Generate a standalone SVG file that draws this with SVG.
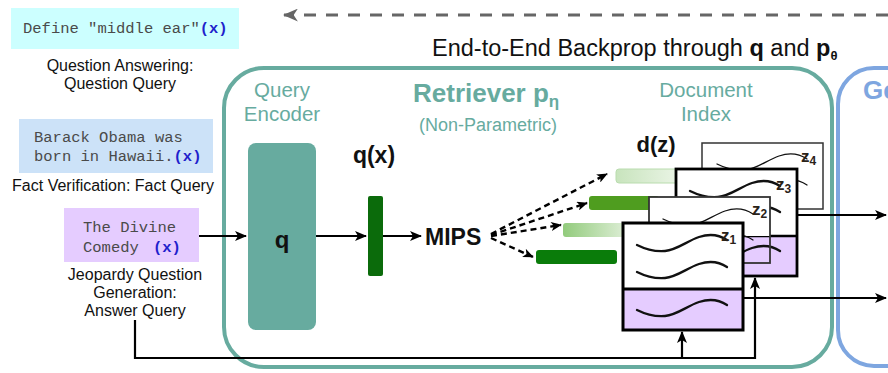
<svg xmlns="http://www.w3.org/2000/svg" width="888" height="373" viewBox="0 0 888 373">
  <style>
    .sans { font-family: "Liberation Sans", Arial, sans-serif; }
    .mono { font-family: "Liberation Mono", "Courier New", monospace; font-size: 15.5px; fill: #4a4a4a; }
    .x { font-weight: bold; fill: #1f1fcc; }
    .cap { font-size: 16px; fill: #111; text-anchor: middle; }
    .teal { fill: #67ab9f; }
    .b { font-weight: bold; }
    .wire { fill: none; stroke: #000; stroke-width: 2.2; }
    .dash { fill: none; stroke: #000; stroke-width: 2.4; stroke-dasharray: 6 4; }
    .wave { fill: none; stroke: #111; stroke-linecap: round; }
    .zl { font-size: 17px; font-weight: bold; fill: #2a2218; }
  </style>
  <defs>
    <marker id="ah" viewBox="0 0 12 10" refX="11" refY="5" markerWidth="12" markerHeight="10" orient="auto" markerUnits="userSpaceOnUse">
      <path d="M0 0 L12 5 L0 10 L3 5 Z" fill="#000"/>
    </marker>
    <marker id="ahs" viewBox="0 0 12 10" refX="11" refY="5" markerWidth="11" markerHeight="9" orient="auto" markerUnits="userSpaceOnUse">
      <path d="M0 0 L12 5 L0 10 L3 5 Z" fill="#000"/>
    </marker>
    <marker id="ahg" viewBox="0 0 14 12" refX="13" refY="6" markerWidth="15" markerHeight="13" orient="auto" markerUnits="userSpaceOnUse">
      <path d="M0 0 L14 6 L0 12 L4 6 Z" fill="#666"/>
    </marker>
    <linearGradient id="gLight" x1="0" y1="0" x2="1" y2="0">
      <stop offset="0" stop-color="#92cb7c"/>
      <stop offset="1" stop-color="#e6f2e0"/>
    </linearGradient>
    <linearGradient id="gPale" x1="0" y1="0" x2="1" y2="0">
      <stop offset="0" stop-color="#c8e4bd"/>
      <stop offset="1" stop-color="#eef6ea"/>
    </linearGradient>
    <!-- one handwritten-style text line inside a document card -->
    <path id="wave" d="M0 0 C8 4 16 7 28 6 C40 5 50 -4 62 -8 C74 -12 84 -9 90 -5"/>
  </defs>

  <!-- backprop banner -->
  <g id="backprop">
    <line x1="888" y1="15" x2="284" y2="15" stroke="#666" stroke-width="3" stroke-dasharray="12 10" marker-end="url(#ahg)"/>
    <text class="sans" x="432" y="56" font-size="23.5" fill="#111">End-to-End Backprop through <tspan class="b">q</tspan> and <tspan class="b">p</tspan><tspan class="b" font-size="13" dy="4">θ</tspan></text>
  </g>

  <!-- query examples -->
  <g id="qa-query">
    <rect x="11" y="8" width="228" height="41" fill="#ccffff"/>
    <text class="mono" x="23" y="33">Define "middle ear"<tspan class="x">(x)</tspan></text>
    <text class="sans cap" x="120" y="71">Question Answering:</text>
    <text class="sans cap" x="120" y="89">Question Query</text>
  </g>
  <g id="fact-query">
    <rect x="19" y="119" width="194" height="54" fill="#cce2f8"/>
    <text class="mono" x="34" y="142">Barack Obama was</text>
    <text class="mono" x="34" y="161">born in Hawaii.<tspan class="x">(x)</tspan></text>
    <text class="sans cap" x="113" y="191">Fact Verification: Fact Query</text>
  </g>
  <g id="jeopardy-query">
    <rect x="64" y="208" width="135" height="54" fill="#e5ccff"/>
    <text class="mono" x="83" y="232">The Divine</text>
    <text class="mono" x="83" y="252">Comedy <tspan class="x" x="153">(x)</tspan></text>
    <text class="sans cap" x="135" y="280">Jeopardy Question</text>
    <text class="sans cap" x="135" y="298">Generation:</text>
    <text class="sans cap" x="135" y="316">Answer Query</text>
  </g>

  <!-- retriever and generator frames -->
  <g id="generator">
    <rect x="838" y="68" width="120" height="298" rx="36" fill="none" stroke="#7ea6e0" stroke-width="4"/>
    <text class="sans b" x="863" y="99" font-size="26" fill="#7ea6e0">Ge</text>
  </g>
  <g id="retriever">
    <rect x="224" y="68" width="608" height="299" rx="40" fill="none" stroke="#67ab9f" stroke-width="4"/>
    <text class="sans b teal" x="413" y="102" font-size="26">Retriever p<tspan font-size="17" dy="5">η</tspan></text>
    <text class="sans teal" x="488" y="131" font-size="18" text-anchor="middle">(Non-Parametric)</text>
  </g>

  <g id="query-encoder">
    <text class="sans teal" x="282" y="97" font-size="20.5" text-anchor="middle">Query</text>
    <text class="sans teal" x="282" y="121" font-size="20.5" text-anchor="middle">Encoder</text>
    <rect x="248" y="143" width="68" height="187" rx="8" fill="#67ab9f"/>
    <text class="sans b" x="282" y="248" font-size="24" text-anchor="middle" fill="#111">q</text>
  </g>

  <g id="query-vector">
    <text class="sans b" x="374" y="163" font-size="23" text-anchor="middle" fill="#111">q(x)</text>
    <rect x="368" y="196" width="15" height="80" rx="2" fill="#0b6b0b"/>
  </g>

  <g id="mips">
    <text class="sans b" x="425" y="245" font-size="23" fill="#111">MIPS</text>
  </g>

  <g id="document-index">
    <text class="sans teal" x="706" y="97" font-size="20.5" text-anchor="middle">Document</text>
    <text class="sans teal" x="706" y="121" font-size="20.5" text-anchor="middle">Index</text>
    <text class="sans b" x="656" y="152" font-size="22" text-anchor="middle" fill="#111">d(z)</text>
  </g>

  <!-- document embeddings -->
  <g id="embeddings">
    <rect x="616" y="169" width="70" height="14" rx="3" fill="url(#gPale)" stroke="#b9dcae" stroke-width="1"/>
    <rect x="589" y="196" width="70" height="14" rx="3" fill="#4f9d1f"/>
    <rect x="563" y="223" width="70" height="14" rx="3" fill="url(#gLight)"/>
    <rect x="536" y="250" width="81" height="14" rx="3" fill="#0a7c0a"/>
  </g>

  <!-- document cards, back to front -->
  <g id="doc-z4">
    <rect x="702" y="143" width="121" height="66" fill="#fff" stroke="#333" stroke-width="1.5"/>
    <use href="#wave" x="717" y="164" class="wave" stroke-width="1.3"/>
    <use href="#wave" x="717" y="190" class="wave" stroke-width="1.3"/>
    <text class="sans zl" x="801" y="162">z<tspan font-size="12" dy="3">4</tspan></text>
  </g>
  <g id="doc-z3">
    <rect x="676" y="169" width="121" height="67" fill="#fff"/>
    <rect x="676" y="236" width="121" height="40" fill="#e5ccff"/>
    <use href="#wave" x="690" y="191" class="wave" stroke-width="2.3"/>
    <use href="#wave" x="690" y="217" class="wave" stroke-width="2.3"/>
    <use href="#wave" x="690" y="256" class="wave" stroke-width="2.3"/>
    <line x1="676" y1="236" x2="797" y2="236" stroke="#000" stroke-width="2.5"/>
    <rect x="676" y="169" width="121" height="107" fill="none" stroke="#000" stroke-width="2.8"/>
    <text class="sans zl" x="776" y="190">z<tspan font-size="12" dy="3">3</tspan></text>
  </g>
  <g id="doc-z2">
    <rect x="649" y="197" width="121" height="39" fill="#fff"/>
    <use href="#wave" x="663" y="219" class="wave" stroke-width="1.3"/>
    <use href="#wave" x="663" y="245" class="wave" stroke-width="1.3"/>
    <rect x="649" y="197" width="121" height="66" fill="none" stroke="#333" stroke-width="1.8"/>
    <text class="sans zl" x="752" y="215">z<tspan font-size="12" dy="3">2</tspan></text>
  </g>
  <g id="doc-z1">
    <rect x="623" y="223" width="120" height="66" fill="#fff"/>
    <rect x="623" y="289" width="120" height="41" fill="#e5ccff"/>
    <use href="#wave" x="637" y="245" class="wave" stroke-width="2.3"/>
    <use href="#wave" x="637" y="272" class="wave" stroke-width="2.3"/>
    <use href="#wave" x="637" y="310" class="wave" stroke-width="2.3"/>
    <line x1="623" y1="289" x2="743" y2="289" stroke="#000" stroke-width="3"/>
    <rect x="623" y="223" width="120" height="107" fill="none" stroke="#000" stroke-width="3"/>
    <text class="sans zl" x="721" y="241">z<tspan font-size="12" dy="3">1</tspan></text>
  </g>

  <!-- connectors -->
  <g id="connectors">
    <line class="wire" x1="199" y1="236" x2="246" y2="236" marker-end="url(#ah)"/>
    <line class="wire" x1="316" y1="236" x2="366" y2="236" marker-end="url(#ah)"/>
    <line class="wire" x1="383" y1="236" x2="421" y2="236" marker-end="url(#ah)"/>
    <line class="dash" x1="491" y1="234" x2="607" y2="174" marker-end="url(#ahs)"/>
    <line class="dash" x1="491" y1="235" x2="587" y2="203" marker-end="url(#ahs)"/>
    <line class="dash" x1="491" y1="236" x2="561" y2="225" marker-end="url(#ahs)"/>
    <line class="dash" x1="491" y1="238" x2="533" y2="257" marker-end="url(#ahs)"/>
    <line class="wire" x1="797" y1="215" x2="886" y2="215" marker-end="url(#ah)"/>
    <line class="wire" x1="743" y1="298" x2="886" y2="298" marker-end="url(#ah)"/>
    <polyline class="wire" points="135,320 135,358 755,358 755,278" marker-end="url(#ah)"/>
    <line class="wire" x1="682" y1="358" x2="682" y2="332" marker-end="url(#ah)"/>
  </g>
</svg>
